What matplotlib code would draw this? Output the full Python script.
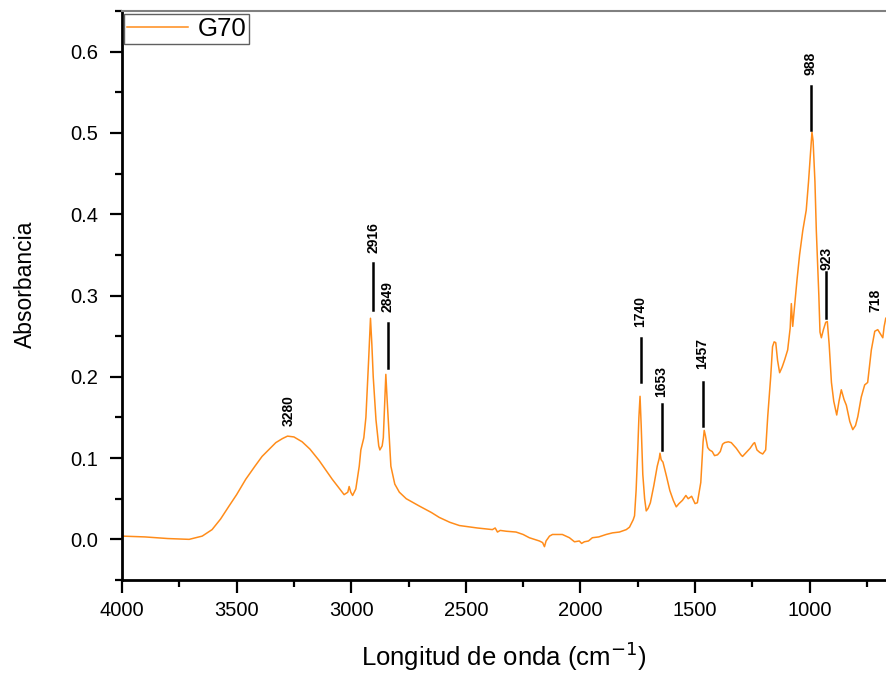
import matplotlib
matplotlib.use("Agg")
import matplotlib.pyplot as plt
from matplotlib.ticker import MultipleLocator

plt.rcParams['font.family'] = ['Liberation Sans', 'DejaVu Sans']

# spectrum (wavenumber, absorbance)
wavenumber = [
    4000, 3900, 3800, 3707, 3650, 3607, 3570, 3533, 3500, 3460, 3420, 3389,
    3350, 3329, 3300, 3278, 3250, 3214, 3180, 3140, 3110, 3083, 3050, 3031,
    3015, 3009, 3002, 2994, 2980, 2965, 2958, 2945, 2936, 2924, 2916, 2910,
    2904, 2892, 2880, 2875, 2865, 2860, 2852, 2849, 2843, 2837, 2827, 2810,
    2790, 2760, 2703, 2650, 2616, 2570, 2528, 2450, 2384, 2372, 2362, 2350,
    2324, 2281, 2250, 2223, 2179, 2165, 2157, 2150, 2135, 2122, 2079, 2048,
    2026, 2005, 1995, 1983, 1965, 1948, 1920, 1888, 1860, 1830, 1800, 1786,
    1770, 1764, 1757, 1750, 1745, 1740, 1735, 1728, 1720, 1713, 1705, 1695,
    1680, 1665, 1656, 1653, 1648, 1640, 1625, 1610, 1595, 1582, 1570, 1555,
    1540, 1530, 1515, 1500, 1490, 1475, 1465, 1460, 1455, 1445, 1437, 1425,
    1415, 1402, 1390, 1380, 1371, 1355, 1342, 1320, 1300, 1293, 1280, 1260,
    1245, 1240, 1230, 1218, 1205, 1192, 1183, 1170, 1162, 1155, 1148, 1140,
    1131, 1120, 1109, 1096, 1085, 1080, 1074, 1066, 1055, 1044, 1030, 1015,
    1005, 995, 990, 985, 977, 971, 960, 955, 949, 940, 930, 923,
    915, 905, 895, 882, 872, 862, 850, 840, 825, 812, 800, 790,
    775, 760, 747, 731, 716, 703, 690, 681, 675, 668,
]
absorbance = [
    0.004, 0.003, 0.001, 0.000, 0.004, 0.012, 0.025, 0.041, 0.055, 0.074, 0.090, 0.102,
    0.113, 0.119, 0.124, 0.127, 0.126, 0.120, 0.111, 0.097, 0.085, 0.074, 0.062, 0.055,
    0.058, 0.065, 0.058, 0.054, 0.062, 0.090, 0.110, 0.125, 0.150, 0.221, 0.272, 0.240,
    0.200, 0.147, 0.115, 0.110, 0.115, 0.125, 0.180, 0.203, 0.170, 0.140, 0.090, 0.068,
    0.058, 0.050, 0.041, 0.033, 0.027, 0.021, 0.017, 0.014, 0.012, 0.014, 0.009, 0.011,
    0.010, 0.009, 0.006, 0.002, -0.002, -0.004, -0.009, -0.002, 0.004, 0.006, 0.006, 0.002,
    -0.003, -0.002, -0.005, -0.003, -0.002, 0.002, 0.003, 0.006, 0.008, 0.009, 0.012, 0.015,
    0.024, 0.029, 0.061, 0.110, 0.150, 0.176, 0.140, 0.080, 0.050, 0.035, 0.038, 0.045,
    0.066, 0.090, 0.100, 0.106, 0.098, 0.095, 0.078, 0.060, 0.048, 0.040, 0.044, 0.048,
    0.054, 0.050, 0.053, 0.044, 0.045, 0.070, 0.120, 0.134, 0.128, 0.113, 0.110, 0.108,
    0.103, 0.104, 0.108, 0.117, 0.119, 0.120, 0.119, 0.112, 0.104, 0.102, 0.106, 0.112,
    0.118, 0.119, 0.110, 0.107, 0.105, 0.110, 0.151, 0.200, 0.237, 0.243, 0.242, 0.220,
    0.205, 0.212, 0.221, 0.233, 0.260, 0.290, 0.262, 0.286, 0.320, 0.350, 0.380, 0.405,
    0.440, 0.480, 0.501, 0.490, 0.440, 0.380, 0.300, 0.255, 0.248, 0.258, 0.267, 0.268,
    0.240, 0.193, 0.170, 0.153, 0.170, 0.184, 0.172, 0.165, 0.145, 0.135, 0.140, 0.151,
    0.175, 0.190, 0.193, 0.233, 0.256, 0.258, 0.252, 0.248, 0.262, 0.272,
]

# peak marks: label, x of mark, text bottom, marker line (bottom, top) or None
peak_labels = ['3280', '2916', '2849', '1740', '1653', '1457', '988', '923', '718']
peak_x = [3271, 2904, 2840, 1738, 1646, 1467, 996, 927, 712]
peak_text_y = [0.139, 0.352, 0.280, 0.261, 0.175, 0.209, 0.571, 0.331, 0.280]
peak_lines = [None, (0.282, 0.340), (0.211, 0.266), (0.193, 0.248), (0.110, 0.166),
              (0.140, 0.194), (0.503, 0.558), (0.272, 0.329), None]

fig = plt.figure(figsize=(8.86, 6.74), dpi=100)
ax = fig.add_axes([122 / 886, 94 / 674, 764 / 886, 569 / 674])

ax.plot(wavenumber, absorbance, color='#ff8c1a', lw=1.1, label='G70')

for lab, x, ty, ln in zip(peak_labels, peak_x, peak_text_y, peak_lines):
    if ln is not None:
        ax.plot([x, x], ln, color='black', lw=1.8)
    ax.text(x, ty, lab, rotation=90, ha='center', va='bottom',
            fontsize=10, fontweight='bold')

ax.set_xlim(4000, 667)
ax.set_ylim(-0.05, 0.65)
ax.xaxis.set_major_locator(MultipleLocator(500))
ax.xaxis.set_minor_locator(MultipleLocator(250))
ax.yaxis.set_major_locator(MultipleLocator(0.1))
ax.yaxis.set_minor_locator(MultipleLocator(0.05))
ax.yaxis.set_major_formatter(plt.FuncFormatter(lambda v, p: f'{v:.1f}'))

ax.tick_params(which='both', direction='out', width=1.6, labelsize=14.5,
               top=False, right=False)
ax.tick_params(which='major', length=9)
ax.tick_params(which='minor', length=5)
ax.tick_params(axis='x', which='major', pad=6)
ax.tick_params(axis='y', which='major', pad=8)

for side in ['left', 'bottom']:
    ax.spines[side].set_linewidth(2)
    ax.spines[side].set_color('black')
ax.spines['top'].set_color('#808080')
ax.spines['top'].set_linewidth(1.5)
ax.spines['right'].set_visible(False)

ax.set_xlabel('Longitud de onda (cm$^{-1}$)', fontsize=18.5)
ax.set_ylabel('Absorbancia', fontsize=16.5)
ax.xaxis.set_label_coords(0.5, -0.105)
ax.yaxis.set_label_coords(-0.111, 0.52)

leg = ax.legend(loc='upper left', bbox_to_anchor=(0.002, 0.995), borderaxespad=0,
                fontsize=18.5, fancybox=False, framealpha=1, edgecolor='#606060',
                handlelength=2.4, handletextpad=0.35, borderpad=0.12)
leg.get_frame().set_linewidth(1.0)

fig.savefig('out.png', dpi=100)
